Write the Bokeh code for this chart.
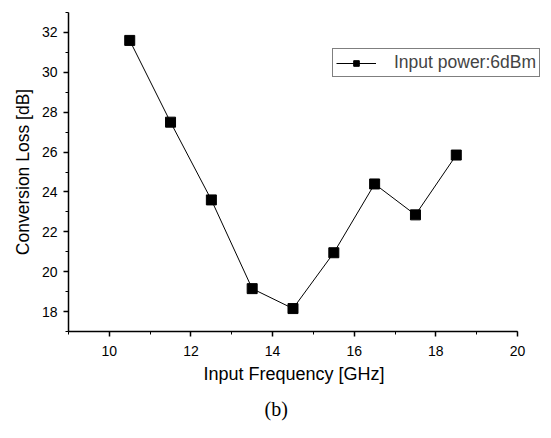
from bokeh.plotting import figure
from bokeh.models import Range1d, SingleIntervalTicker, Legend, LegendItem, Title
from bokeh.embed import file_html
from bokeh.resources import INLINE

freq = [10.5, 11.5, 12.5, 13.5, 14.5, 15.5, 16.5, 17.5, 18.5]
loss = [31.6, 27.5, 23.6, 19.15, 18.15, 20.95, 24.4, 22.85, 25.85]
series_label = "Input power:6dBm"
x_title = "Input Frequency [GHz]"
y_title = "Conversion Loss [dB]"
caption = "(b)"

W, H = 551, 438
p = figure(width=W, height=H, output_backend="svg", toolbar_location=None,
           x_range=Range1d(9, 20.833), y_range=Range1d(17, 33),
           min_border_left=68, min_border_right=0, min_border_top=12, min_border_bottom=107)
p.outline_line_color = None
p.xgrid.visible = False
p.ygrid.visible = False
p.background_fill_color = "white"
p.border_fill_color = "white"

r_line = p.line(freq, loss, line_color="black", line_width=1)
r_pts = p.scatter(freq, loss, marker="square", size=10, fill_color="black", line_color="black")

p.xaxis.ticker = SingleIntervalTicker(interval=2, num_minor_ticks=2)
p.yaxis.ticker = SingleIntervalTicker(interval=2, num_minor_ticks=2)
p.xaxis.bounds = (9, 20)
for ax in (p.xaxis[0], p.yaxis[0]):
    ax.axis_line_width = 1.5
    ax.axis_line_color = "black"
    ax.major_tick_line_color = "black"
    ax.minor_tick_line_color = "black"
    ax.major_tick_line_width = 1.5
    ax.major_tick_out = 5
    ax.major_tick_in = 0
    ax.minor_tick_out = 3
    ax.minor_tick_in = 0
    ax.major_label_text_font = "Liberation Sans"
    ax.major_label_text_font_size = "14px"
    ax.major_label_text_color = "black"
    ax.axis_label_text_font = "Liberation Sans"
    ax.axis_label_text_font_size = "17.5px"
    ax.axis_label_text_font_style = "normal"
    ax.axis_label_text_color = "black"
p.yaxis.axis_label = y_title
p.xaxis.major_label_standoff = 9
p.yaxis.major_label_standoff = 6
p.yaxis.axis_label_standoff = 6

xt = Title(text=x_title, align="left", offset=135, standoff=6,
           text_font="Liberation Sans", text_font_size="18px",
           text_font_style="normal", text_color="black")
p.add_layout(xt, "below")
cap = Title(text=caption, align="left", offset=196, standoff=18,
            text_font="Liberation Serif", text_font_size="20px",
            text_font_style="normal", text_color="black")
p.add_layout(cap, "below")

legend = Legend(items=[LegendItem(label=series_label, renderers=[r_line, r_pts])],
                location=(264, 254), orientation="vertical",
                border_line_color="black", border_line_width=1.2,
                background_fill_color="white", background_fill_alpha=1,
                label_text_font="Liberation Sans", label_text_font_size="17.5px",
                glyph_width=40, glyph_height=14, padding=3, margin=0,
                label_standoff=18, spacing=0)
p.add_layout(legend, "center")

open("out.html", "w").write(file_html(p, INLINE))
